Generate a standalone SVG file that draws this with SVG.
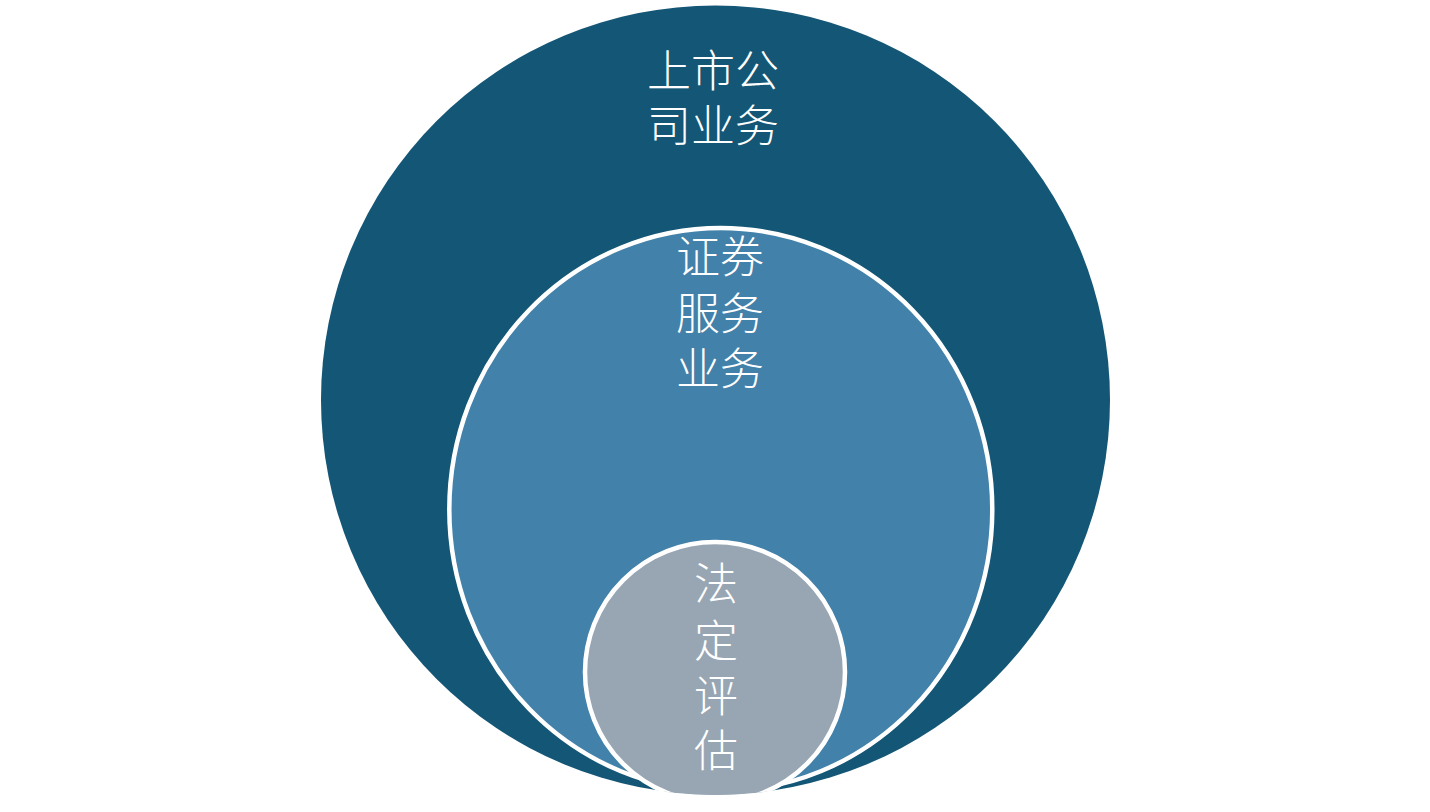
<svg xmlns="http://www.w3.org/2000/svg" width="1430" height="812" viewBox="0 0 1430 812">
<style>
.t{font-family:"Noto Sans CJK SC","Liberation Sans",sans-serif;font-size:44px;font-weight:300;fill:#ffffff;text-anchor:middle}
.ring{stroke:#ffffff;stroke-width:4.5}
</style>
<defs>
<clipPath id="outerClip"><circle cx="715.5" cy="400" r="395"/></clipPath>
</defs>
<rect width="1430" height="812" fill="#ffffff"/>
<g id="outer">
<circle cx="715.5" cy="400" r="394.5" fill="#135675"/>
<text class="t" x="713" y="87">上市公<tspan x="713" dy="55">司业务</tspan></text>
</g>
<g clip-path="url(#outerClip)">
<g id="middle">
<ellipse class="ring" cx="720.8" cy="509.5" rx="271.5" ry="281.5" fill="#4281AA"/>
<text class="t" x="720" y="273">证券<tspan x="720" dy="57">服务</tspan><tspan x="720" dy="55">业务</tspan></text>
</g>
<g id="inner">
<circle class="ring" cx="715" cy="672" r="130" fill="#98A6B4"/>
<text class="t" x="716" y="600">法<tspan x="716" dy="57">定</tspan><tspan x="716" dy="55">评</tspan><tspan x="716" dy="55">估</tspan></text>
</g>
</g>
<g id="connectors"/>
</svg>
